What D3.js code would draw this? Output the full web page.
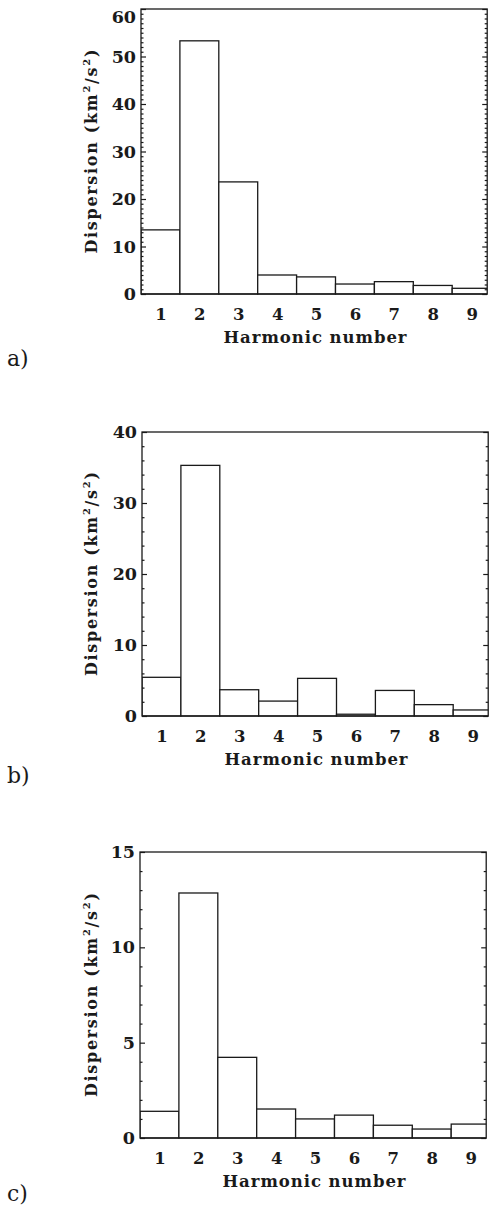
<!DOCTYPE html>
<html>
<head>
<meta charset="utf-8">
<script src="https://cdn.jsdelivr.net/npm/d3@7"></script>
<style>
  html, body { margin: 0; padding: 0; background: #fff; }
  svg { display: block; }
</style>
</head>
<body>
<script>
// ---- data ----
const harmonics = [1, 2, 3, 4, 5, 6, 7, 8, 9];
const dispersionA = [13.5, 53.3, 23.6, 4.0, 3.6, 2.1, 2.6, 1.8, 1.2];
const dispersionB = [5.45, 35.3, 3.7, 2.1, 5.3, 0.25, 3.6, 1.6, 0.85];
const dispersionC = [1.4, 12.85, 4.23, 1.52, 1.0, 1.2, 0.67, 0.47, 0.73];
const yTicksA = [0, 10, 20, 30, 40, 50, 60];
const yTicksB = [0, 10, 20, 30, 40];
const yTicksC = [0, 5, 10, 15];
const panelLabels = ["a)", "b)", "c)"];
const xLabel = "Harmonic number";

// ---- layout ----
const W = 489, H = 1214;
const panels = [
  { values: dispersionA, ticks: yTicksA, yMax: 60, minor: 1, top: 9,   bottom: 294,  left: 141, labelY: 366 },
  { values: dispersionB, ticks: yTicksB, yMax: 40, minor: 2, top: 432, bottom: 716,  left: 142, labelY: 783 },
  { values: dispersionC, ticks: yTicksC, yMax: 15, minor: 1, top: 852, bottom: 1138, left: 140, labelY: 1201 }
];
const barW = 38.9;
const xMin = 0.5, xMax = 9.4;
const ink = "#1a1a1a";

const svg = d3.select("body").append("svg")
  .attr("width", W).attr("height", H)
  .attr("viewBox", `0 0 ${W} ${H}`);

panels.forEach((p, i) => {
  const right = p.left + (xMax - xMin) * barW;
  const x = d3.scaleLinear().domain([xMin, xMax]).range([p.left, right]);
  const y = d3.scaleLinear().domain([0, p.yMax]).range([p.bottom, p.top]);
  const g = svg.append("g");

  const clipId = "clip" + i;
  svg.append("clipPath").attr("id", clipId)
    .append("rect").attr("x", p.left).attr("y", p.top - 2)
    .attr("width", right - p.left).attr("height", p.bottom - p.top + 4);

  // bars
  g.append("g").attr("clip-path", `url(#${clipId})`)
    .selectAll("rect").data(harmonics)
    .join("rect")
    .attr("x", d => x(d - 0.5))
    .attr("width", d => x(d + 0.5) - x(d - 0.5))
    .attr("y", (d, j) => y(p.values[j]))
    .attr("height", (d, j) => y(0) - y(p.values[j]))
    .attr("fill", "#fff")
    .attr("stroke", ink)
    .attr("stroke-width", 1.3);

  // ticks (inward on left and right)
  const minorVals = d3.range(0, p.yMax + 1e-9, p.minor).filter(v => !p.ticks.includes(v));
  const leftAxis = d3.axisRight(y).tickValues(p.ticks).tickSize(5).tickFormat("");
  const leftMinor = d3.axisRight(y).tickValues(minorVals).tickSize(2.5).tickFormat("");
  const rightAxis = d3.axisLeft(y).tickValues(p.ticks).tickSize(5).tickFormat("");
  const rightMinor = d3.axisLeft(y).tickValues(minorVals).tickSize(2.5).tickFormat("");

  [ [leftAxis, p.left], [leftMinor, p.left], [rightAxis, right], [rightMinor, right] ].forEach(([ax, xx]) => {
    const a = g.append("g").attr("transform", `translate(${xx},0)`).call(ax);
    a.select(".domain").remove();
    a.selectAll("line").attr("stroke", ink).attr("stroke-width", 1.2);
  });

  // frame
  g.append("rect")
    .attr("x", p.left).attr("y", p.top)
    .attr("width", right - p.left).attr("height", p.bottom - p.top)
    .attr("fill", "none").attr("stroke", ink).attr("stroke-width", 1.3);

  // y tick labels
  const yl = d3.axisLeft(y).tickValues(p.ticks).tickSize(0).tickPadding(5).tickFormat(d3.format("d"));
  const ya = g.append("g").attr("transform", `translate(${p.left},0)`).call(yl);
  ya.select(".domain").remove();
  ya.selectAll("text")
    .attr("font-family", "DejaVu Serif").attr("font-weight", "bold")
    .attr("font-size", 17.5).attr("fill", ink)
    .attr("dy", d => y(d) < 14 ? "0.75em" : "0.32em");

  // x tick labels
  const xl = d3.axisBottom(x).tickValues(harmonics).tickSize(0).tickPadding(14).tickFormat(d3.format("d"));
  const xa = g.append("g").attr("transform", `translate(0,${p.bottom})`).call(xl);
  xa.select(".domain").remove();
  xa.selectAll("text")
    .attr("font-family", "DejaVu Serif").attr("font-weight", "bold")
    .attr("font-size", 16.5).attr("fill", ink);

  // x label
  g.append("text")
    .attr("x", (x(0.5) + x(9.5)) / 2 - 1)
    .attr("y", p.bottom + 49)
    .attr("text-anchor", "middle")
    .attr("font-family", "DejaVu Serif")
    .attr("font-size", 16.5).attr("font-weight", "bold")
    .attr("fill", ink)
    .attr("textLength", 183).attr("lengthAdjust", "spacing")
    .text(xLabel);

  // y label
  const cy = (p.top + p.bottom) / 2;
  const t = g.append("text")
    .attr("transform", `translate(97,${cy}) rotate(-90)`)
    .attr("text-anchor", "middle")
    .attr("font-family", "DejaVu Serif")
    .attr("font-size", 16).attr("font-weight", "bold")
    .attr("fill", ink)
    .attr("textLength", 204).attr("lengthAdjust", "spacing");
  t.append("tspan").text("Dispersion (km");
  t.append("tspan").attr("font-size", 10).attr("dy", -7).text("2");
  t.append("tspan").attr("dy", 7).text("/s");
  t.append("tspan").attr("font-size", 10).attr("dy", -7).text("2");
  t.append("tspan").attr("dy", 7).text(")");

  // panel label
  svg.append("text")
    .attr("x", 7).attr("y", p.labelY)
    .attr("font-family", "DejaVu Serif")
    .attr("font-size", 22)
    .attr("fill", ink)
    .text(panelLabels[i]);
});
</script>
</body>
</html>
